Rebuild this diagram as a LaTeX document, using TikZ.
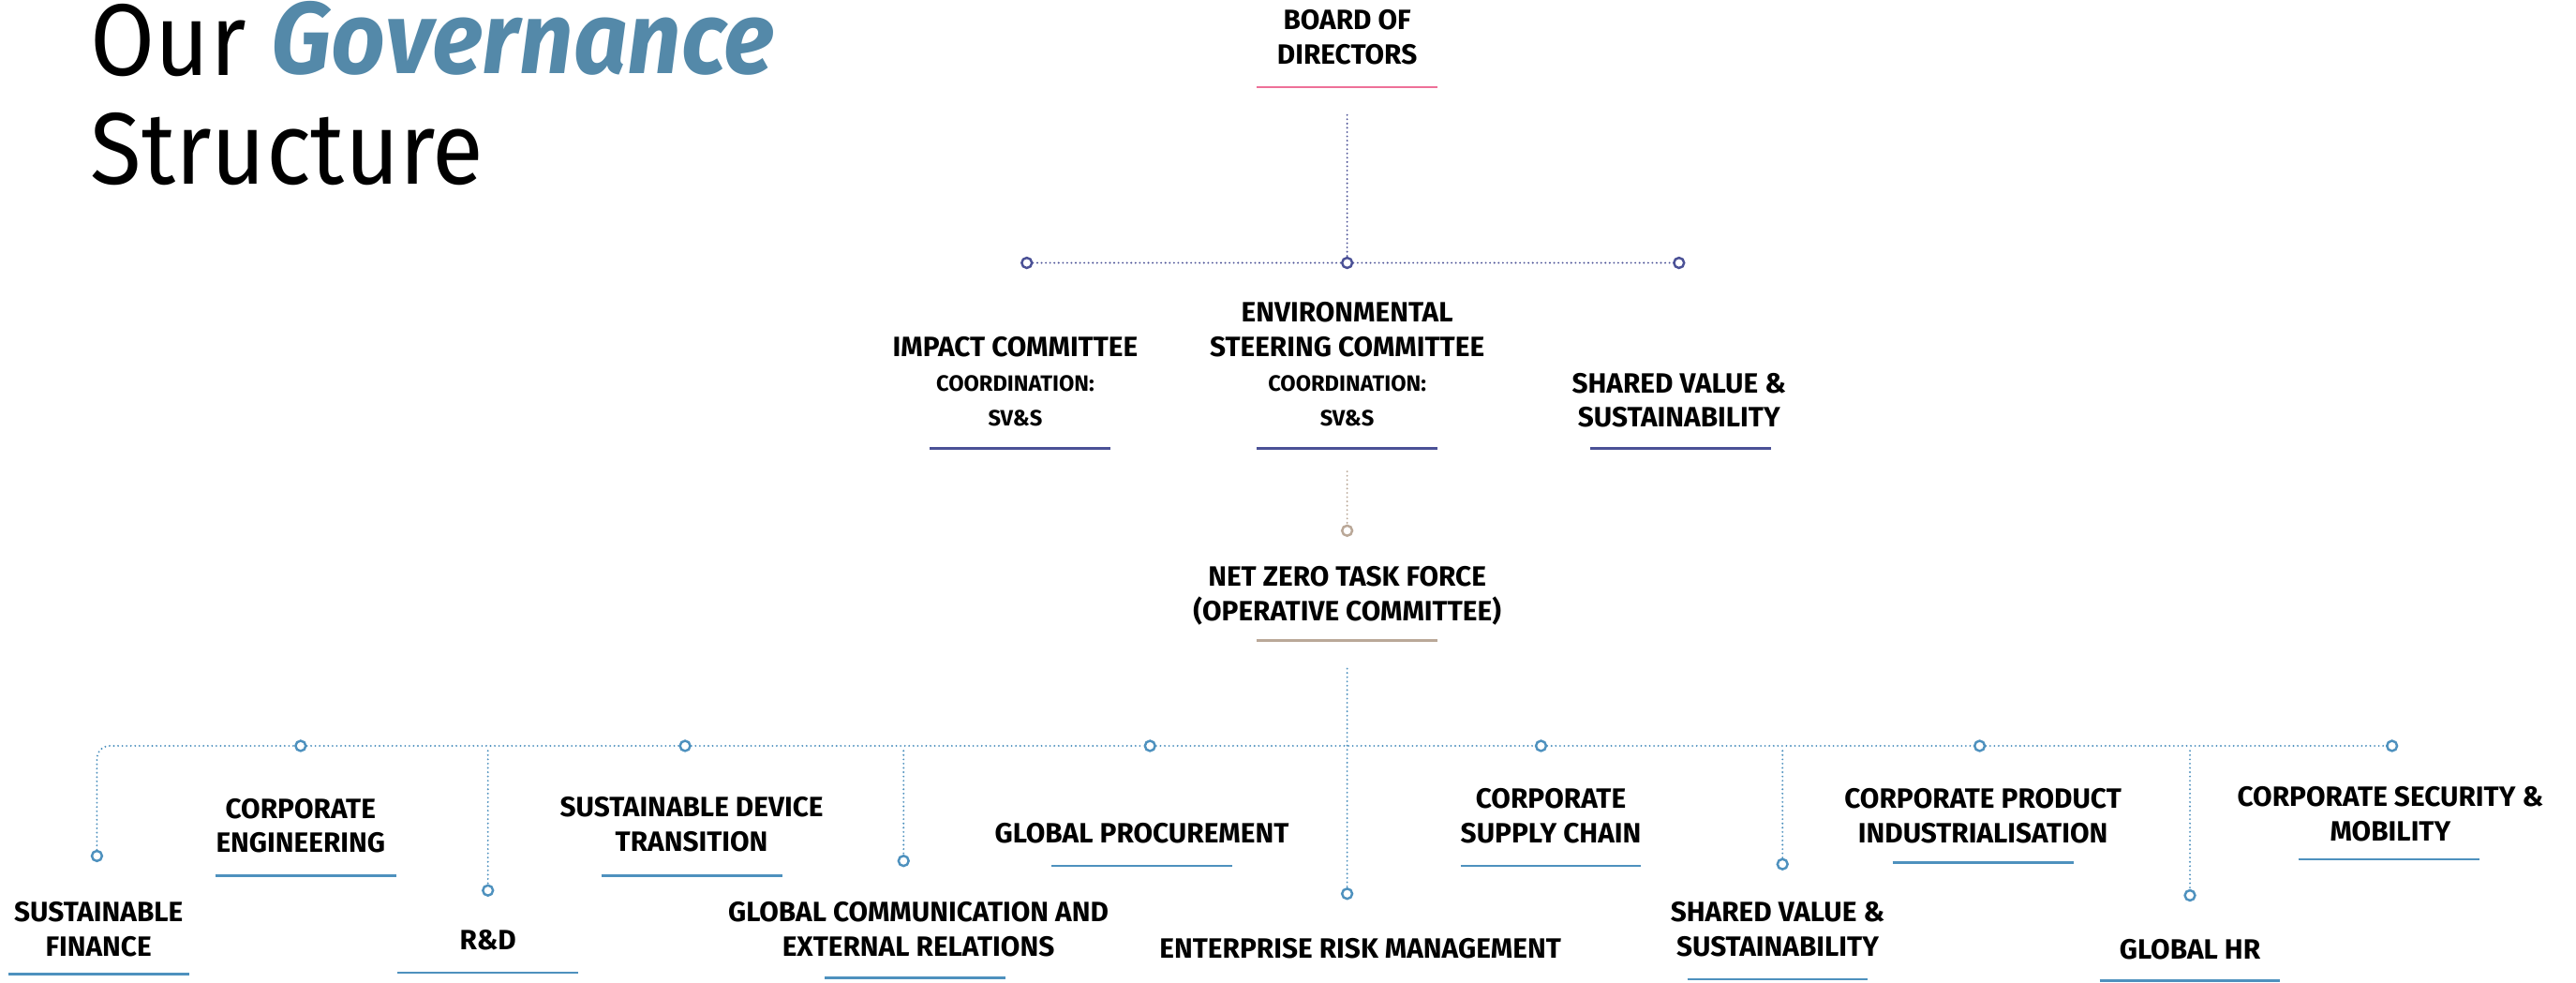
\documentclass[tikz,border=0pt]{standalone}
\usepackage{fontspec}
\setmainfont{Fira Sans}[FakeStretch=1.0]
\newfontfamily\lightfont{Fira Sans}[FakeStretch=0.92]
\newfontfamily\govfont{Fira Sans}[FakeStretch=0.93]
\definecolor{pinkline}{HTML}{EE7098}
\definecolor{navyline}{HTML}{4B5196}
\definecolor{taupeline}{HTML}{BAA898}
\definecolor{blueline}{HTML}{4E91BE}
\definecolor{govblue}{HTML}{5489A9}
\newcommand\lbltext{\bfseries\fontsize{17}{21}\selectfont}
\newcommand\subtext{\fontsize{13.5}{21}\selectfont}
\begin{document}
\begin{tikzpicture}[
  x=1pt, y=-1pt,
  lbl/.style={anchor=base, align=center, inner sep=0pt, font=\lbltext},
  knob/.style={circle, draw=#1, fill=white, line width=1.4pt, minimum size=6.2pt, inner sep=0pt},
  dotline/.style={draw=#1, line width=1.2pt, line cap=round, dash pattern=on 0pt off 2.6pt},
  barline/.style={draw=#1, line width=1.6pt},
  heading/.style={anchor=base west, inner sep=0pt},
]
\useasboundingbox (0,0) rectangle (1568,598);

% title
\node[heading, font=\lightfont\fontsize{62}{62}\selectfont] (our) at (55,46) {Our};
\node[heading, text=govblue, font=\govfont\bfseries\itshape\fontsize{62}{62}\selectfont] (gov) at (165,45) {Governance};
\node[heading, font=\lightfont\fontsize{62}{62}\selectfont] (struct) at (55,112) {Structure};

% board (node base = baseline of its last line)
\node[lbl] (bod) at (820,39) {BOARD OF\\DIRECTORS};
\draw[barline=pinkline] (765,53) -- (875,53);
\coordinate (bodfoot) at (820,70);

% committees
\node[knob=navyline] (kimp) at (625,160) {};
\node[knob=navyline] (kesc) at (820,160) {};
\node[knob=navyline] (ksvs) at (1022,160) {};
\draw[dotline=navyline] (bodfoot) -- (kesc);
\draw[dotline=navyline] (kimp) -- (kesc) -- (ksvs);

\node[lbl] (imp) at (618,259) {IMPACT COMMITTEE\\{\subtext COORDINATION:}\\{\subtext SV\&S}};
\draw[barline=navyline] (566,273) -- (676,273);
\node[lbl] (esc) at (820,259) {ENVIRONMENTAL\\STEERING COMMITTEE\\{\subtext COORDINATION:}\\{\subtext SV\&S}};
\draw[barline=navyline] (765,273) -- (875,273);
\node[lbl] (svs) at (1022,260) {SHARED VALUE \&\\SUSTAINABILITY};
\draw[barline=navyline] (968,273) -- (1078,273);

% net zero task force
\coordinate (escfoot) at (820,287);
\node[knob=taupeline] (knz) at (820,323) {};
\draw[dotline=taupeline] (escfoot) -- (knz);
\node[lbl] (nz) at (820,378) {NET ZERO TASK FORCE\\(OPERATIVE COMMITTEE)};
\draw[barline=taupeline] (765,390) -- (875,390);
\coordinate (nzfoot) at (820,407);

% operative functions: knobs on the bus
\node[knob=blueline] (kce)  at (183,454) {};
\node[knob=blueline] (ksdt) at (417,454) {};
\node[knob=blueline] (kgp)  at (700,454) {};
\node[knob=blueline] (kcsc) at (938,454) {};
\node[knob=blueline] (kcpi) at (1205,454) {};
\node[knob=blueline] (kcsm) at (1456,454) {};
% knobs hanging below the bus
\node[knob=blueline] (ksf)   at (59,521) {};
\node[knob=blueline] (krd)   at (297,542) {};
\node[knob=blueline] (kgcer) at (550,524) {};
\node[knob=blueline] (kerm)  at (820,544) {};
\node[knob=blueline] (ksvs2) at (1085,526) {};
\node[knob=blueline] (kghr)  at (1333,545) {};
\coordinate (brd)   at (297,457);
\coordinate (bgcer) at (550,457);
\coordinate (bsvs2) at (1085,457);
\coordinate (bghr)  at (1333,457);

\draw[dotline=blueline, rounded corners=7.5pt] (ksf) |- (kce);
\draw[dotline=blueline] (kce) -- (ksdt) -- (kgp) -- (kcsc) -- (kcpi) -- (kcsm);
\draw[dotline=blueline] (nzfoot) -- (kerm);
\draw[dotline=blueline] (brd) -- (krd);
\draw[dotline=blueline] (bgcer) -- (kgcer);
\draw[dotline=blueline] (bsvs2) -- (ksvs2);
\draw[dotline=blueline] (bghr) -- (kghr);

% operative function labels
\node[lbl] (sf)   at (60,582)   {SUSTAINABLE\\FINANCE};
\draw[barline=blueline] (5,593) -- (115,593);
\node[lbl] (ce)   at (183,519)  {CORPORATE\\ENGINEERING};
\draw[barline=blueline] (131,533) -- (241,533);
\node[lbl] (rd)   at (297,578)  {R\&D};
\draw[barline=blueline] (242,592) -- (352,592);
\node[lbl] (sdt)  at (421,518)  {SUSTAINABLE DEVICE\\TRANSITION};
\draw[barline=blueline] (366,533) -- (476,533);
\node[lbl] (gcer) at (559,582)  {GLOBAL COMMUNICATION AND\\EXTERNAL RELATIONS};
\draw[barline=blueline] (502,595) -- (612,595);
\node[lbl] (gp)   at (695,513)  {GLOBAL PROCUREMENT};
\draw[barline=blueline] (640,527) -- (750,527);
\node[lbl] (erm)  at (828,583)  {ENTERPRISE RISK MANAGEMENT};
\node[lbl] (csc)  at (944,513)  {CORPORATE\\SUPPLY CHAIN};
\draw[barline=blueline] (889,527) -- (999,527);
\node[lbl] (svs2) at (1082,582) {SHARED VALUE \&\\SUSTAINABILITY};
\draw[barline=blueline] (1027,596) -- (1137,596);
\node[lbl] (cpi)  at (1207,513) {CORPORATE PRODUCT\\INDUSTRIALISATION};
\draw[barline=blueline] (1152,525) -- (1262,525);
\node[lbl] (ghr)  at (1333,584) {GLOBAL HR};
\draw[barline=blueline] (1278,597) -- (1388,597);
\node[lbl] (csm)  at (1455,512) {CORPORATE SECURITY \&\\MOBILITY};
\draw[barline=blueline] (1399,523) -- (1509,523);
\end{tikzpicture}
\end{document}
